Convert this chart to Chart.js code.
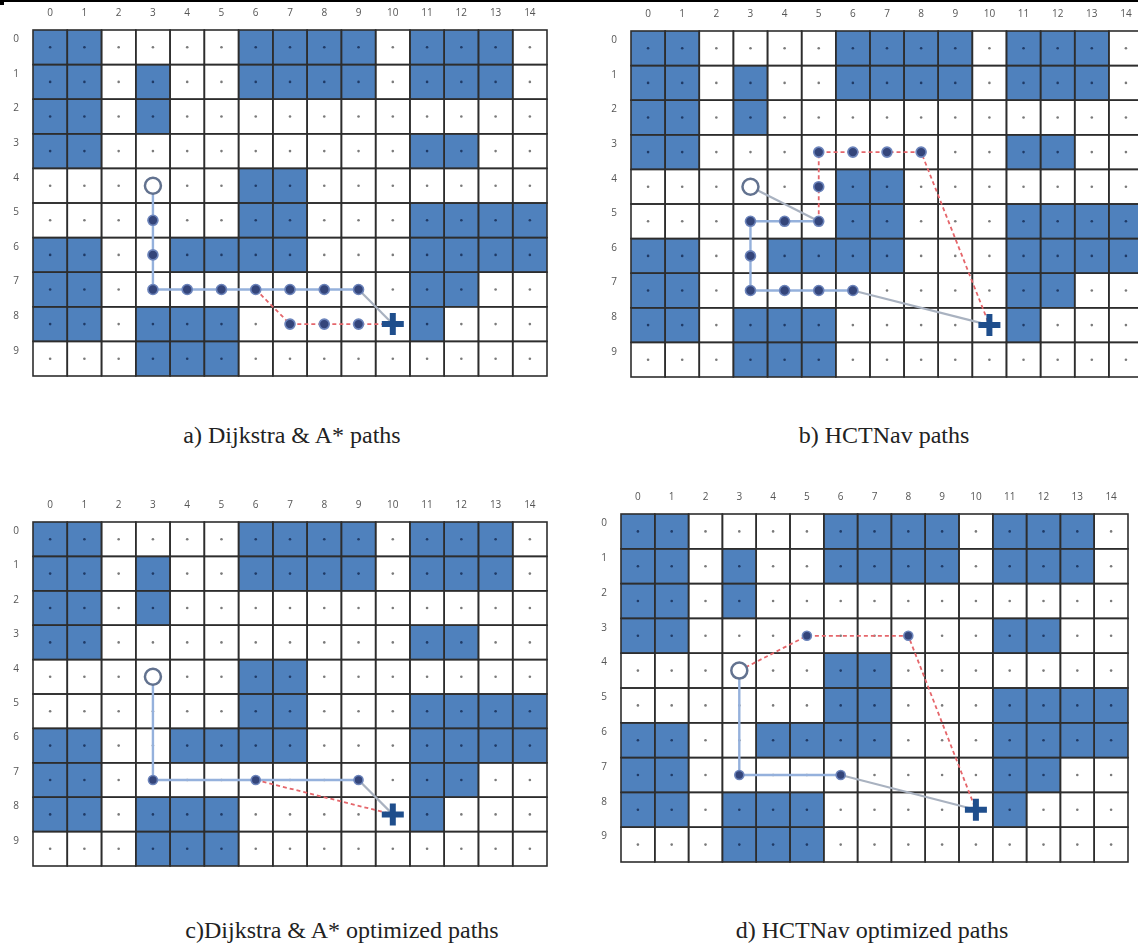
<!DOCTYPE html>
<html lang="en">
<head>
<meta charset="UTF-8" />
<title>Grid paths</title>
<script src="https://cdn.jsdelivr.net/npm/chart.js@4.4.1/dist/chart.umd.min.js"></script>
<style>
  body { margin: 0; width: 1138px; height: 949px; overflow: hidden; background: #fff; position: relative; }
  .topline { position: absolute; left: 0; top: 0; width: 1138px; height: 2px; background: #000; }
  .corner { position: absolute; left: 0; top: 0; width: 4px; height: 5px; background: #000; }
  .panel { position: absolute; }
  .cap { position: absolute; font-family: "Liberation Serif", serif; font-size: 24px; color: #222;
         white-space: nowrap; transform: translateX(-50%); }
</style>
</head>
<body>
<div class="topline"></div>
<div class="corner"></div>
<div class="panel" id="pa"><canvas id="ca"></canvas></div>
<div class="panel" id="pb"><canvas id="cb"></canvas></div>
<div class="panel" id="pc"><canvas id="cc"></canvas></div>
<div class="panel" id="pd"><canvas id="cd"></canvas></div>
<div class="cap" style="left:292px;top:422px">a) Dijkstra &amp; A* paths</div>
<div class="cap" style="left:884px;top:422px">b) HCTNav paths</div>
<div class="cap" style="left:342px;top:917px">c)Dijkstra &amp; A* optimized paths</div>
<div class="cap" style="left:872px;top:917px">d) HCTNav optimized paths</div>
<script>
// tick labels
const colLabels = ["0","1","2","3","4","5","6","7","8","9","10","11","12","13","14"];
const rowLabels = ["0","1","2","3","4","5","6","7","8","9"];

// obstacle map, 1 = blue cell
const grid = [
  "110000111101110",
  "110100111101110",
  "110100000000000",
  "110000000001100",
  "000000110000000",
  "000000110001111",
  "110011110001111",
  "110000000001100",
  "110111000001000",
  "000111000000000"
];

// cells as [col, row]
const start = [3, 4];
const target = [10, 8];

// a) Dijkstra & A*
const aBlue = [[3,4],[3,5],[3,6],[3,7],[4,7],[5,7],[6,7],[7,7],[8,7],[9,7]];
const aGrey = [[[9,7],[10,8]]];
const aRed = [[6,7],[7,8],[8,8],[9,8],[10,8]];
const aNodes = [[3,5],[3,6],[3,7],[4,7],[5,7],[6,7],[7,7],[8,7],[9,7],[7,8],[8,8],[9,8]];

// b) HCTNav
const bBlue = [[5,5],[4,5],[3,5],[3,6],[3,7],[4,7],[5,7],[6,7]];
const bGrey = [[[3,4],[5,5]], [[6,7],[10,8]]];
const bRed = [[5,5],[5,4],[5,3],[6,3],[7,3],[8,3],[10,8]];
const bNodes = [[3,5],[4,5],[5,5],[3,6],[3,7],[4,7],[5,7],[6,7],[5,4],[5,3],[6,3],[7,3],[8,3]];

// c) Dijkstra & A* optimized
const cBlue = [[3,4],[3,7],[6,7],[9,7]];
const cGrey = [[[9,7],[10,8]]];
const cRed = [[6,7],[10,8]];
const cNodes = [[3,7],[6,7],[9,7]];

// d) HCTNav optimized
const dBlue = [[3,4],[3,7],[6,7]];
const dGrey = [[[6,7],[10,8]]];
const dRed = [[3,4],[5,3],[8,3],[10,8]];
const dNodes = [[3,7],[6,7],[5,3],[8,3]];

const AXIS_W = 33, AXIS_H = 30, PAD = 3;

const panels = [
  { box: "pa", canvas: "ca", left: 33, top: 30, w: 514, h: 346, blue: aBlue, grey: aGrey, red: aRed, nodes: aNodes, nodeR: 5 },
  { box: "pb", canvas: "cb", left: 631, top: 31, w: 512, h: 346, blue: bBlue, grey: bGrey, red: bRed, nodes: bNodes, nodeR: 5 },
  { box: "pc", canvas: "cc", left: 33, top: 522, w: 514, h: 344, blue: cBlue, grey: cGrey, red: cRed, nodes: cNodes, nodeR: 4.5 },
  { box: "pd", canvas: "cd", left: 621, top: 514, w: 507, h: 348, blue: dBlue, grey: dGrey, red: dRed, nodes: dNodes, nodeR: 4.5 }
];

function pts(list) {
  return list.map(([c, r]) => ({ x: c + 0.5, y: r + 0.5 }));
}

// draws the obstacle cells and the centre dots through the chart scales
const cellPlugin = {
  id: "cells",
  beforeDatasetsDraw(chart) {
    const { ctx } = chart;
    const xs = chart.scales.x, ys = chart.scales.y;
    ctx.save();
    grid.forEach((row, r) => {
      row.split("").forEach((v, c) => {
        const x0 = xs.getPixelForValue(c), x1 = xs.getPixelForValue(c + 1);
        const y0 = ys.getPixelForValue(r), y1 = ys.getPixelForValue(r + 1);
        ctx.fillStyle = v === "1" ? "#4f81bd" : "#ffffff";
        ctx.fillRect(x0, y0, x1 - x0, y1 - y0);
      });
    });
    ctx.strokeStyle = "#2d2d2d";
    ctx.lineWidth = 1.6;
    grid.forEach((row, r) => {
      row.split("").forEach((v, c) => {
        const x0 = xs.getPixelForValue(c), x1 = xs.getPixelForValue(c + 1);
        const y0 = ys.getPixelForValue(r), y1 = ys.getPixelForValue(r + 1);
        ctx.strokeRect(x0, y0, x1 - x0, y1 - y0);
      });
    });
    grid.forEach((row, r) => {
      row.split("").forEach((v, c) => {
        ctx.fillStyle = v === "1" ? "#1f3a66" : "#7a7a7a";
        ctx.beginPath();
        ctx.arc(xs.getPixelForValue(c + 0.5), ys.getPixelForValue(r + 0.5), 1.3, 0, Math.PI * 2);
        ctx.fill();
      });
    });
    ctx.restore();
  }
};

function lineSet(list, color, width, dash, order) {
  return {
    data: pts(list), showLine: true, borderColor: color, borderWidth: width,
    borderDash: dash, pointRadius: 0, order: order
  };
}

function noPad(s) {
  s.paddingLeft = 0; s.paddingRight = 0; s.paddingTop = 0; s.paddingBottom = 0;
}

panels.forEach((p) => {
  const box = document.getElementById(p.box);
  box.style.left = (p.left - AXIS_W) + "px";
  box.style.top = (p.top - AXIS_H) + "px";
  box.style.width = (AXIS_W + p.w + PAD) + "px";
  box.style.height = (AXIS_H + p.h + PAD) + "px";

  const datasets = [];
  datasets.push(lineSet(p.blue, "#95b1dc", 2.4, [], 5));
  p.grey.forEach((seg) => datasets.push(lineSet(seg, "#a9b2c0", 2.2, [], 5)));
  datasets.push(lineSet(p.red, "#e5666b", 1.8, [4, 3], 4));
  datasets.push({
    data: pts(p.nodes), pointRadius: p.nodeR, backgroundColor: "#34457a",
    borderColor: "#6c84bb", borderWidth: 1.6, order: 2
  });
  datasets.push({
    data: pts([start]), pointRadius: 8, backgroundColor: "#ffffff",
    borderColor: "#62728f", borderWidth: 2.5, order: 1
  });
  datasets.push({
    data: pts([target]), pointStyle: "cross", pointRadius: 11,
    borderColor: "#1f4e8c", borderWidth: 6, order: 0
  });

  new Chart(document.getElementById(p.canvas), {
    type: "scatter",
    data: { datasets: datasets },
    plugins: [cellPlugin],
    options: {
      responsive: true,
      maintainAspectRatio: false,
      devicePixelRatio: 1,
      animation: false,
      events: [],
      layout: { autoPadding: false, padding: { left: 0, top: 0, right: PAD, bottom: PAD } },
      plugins: { legend: { display: false }, tooltip: { enabled: false } },
      scales: {
        x: {
          type: "linear", position: "top", min: 0, max: 15,
          grid: { display: false, drawTicks: false }, border: { display: false },
          afterBuildTicks: (s) => { s.ticks = colLabels.map((_, i) => ({ value: i + 0.5 })); },
          afterFit: (s) => { s.height = AXIS_H; noPad(s); },
          ticks: {
            autoSkip: false, maxRotation: 0, padding: 11,
            color: "#555", font: { family: "Open Sans", size: 10 },
            callback: (v, i) => colLabels[i]
          }
        },
        y: {
          type: "linear", position: "left", reverse: true, min: 0, max: 10,
          grid: { display: false, drawTicks: false }, border: { display: false },
          afterBuildTicks: (s) => { s.ticks = rowLabels.map((_, i) => ({ value: i + 0.5 })); },
          afterFit: (s) => { s.width = AXIS_W; noPad(s); },
          ticks: {
            autoSkip: false, padding: 14, labelOffset: -8,
            color: "#555", font: { family: "Open Sans", size: 10 },
            callback: (v, i) => rowLabels[i]
          }
        }
      }
    }
  });
});
</script>
</body>
</html>
